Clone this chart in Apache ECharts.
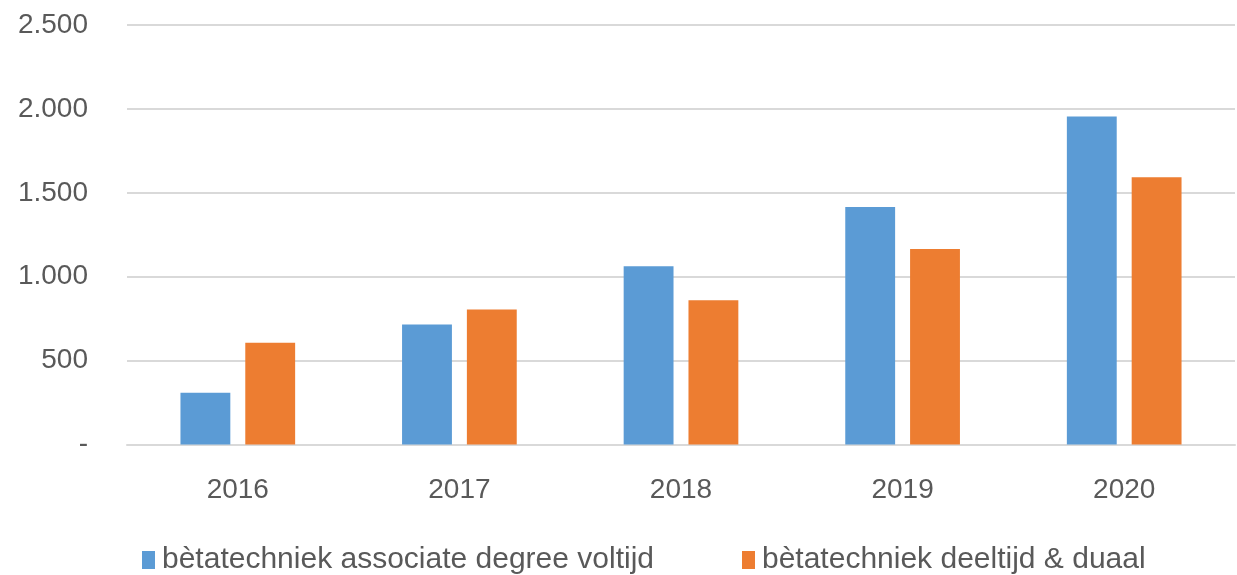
<!DOCTYPE html>
<html><head><meta charset="utf-8">
<script src="https://cdn.jsdelivr.net/npm/echarts@6/dist/echarts.min.js"></script>
<style>html,body{margin:0;padding:0;background:#fff}#c{width:1237px;height:575px}</style>
</head><body><div id="c"></div>
<script>
const categories = ['2016','2017','2018','2019','2020'];
const seriesNames = ['bètatechniek associate degree voltijd','bètatechniek deeltijd & duaal'];
const voltijd = [308, 715, 1062, 1415, 1955];
const deeltijd = [607, 805, 860, 1165, 1592];
const yTicks = [0, 500, 1000, 1500, 2000, 2500];

const FONT = 'Liberation Sans';
const chart = echarts.init(document.getElementById('c'));
chart.setOption({
  animation: false,
  textStyle: {fontFamily: FONT},
  grid: {left: 127, right: 2, top: 25, bottom: 130.5, containLabel: false},
  legend: {
    top: 540, left: 137, itemWidth: 13, itemHeight: 18, itemGap: 88,
    icon: 'rect',
    textStyle: {fontSize: 30, color: '#595959', fontFamily: FONT, padding: [0, 0, 0, 2]},
    data: seriesNames
  },
  xAxis: {
    type: 'category', data: categories,
    axisLine: {lineStyle: {color: '#d9d9d9', width: 2}},
    axisTick: {show: false},
    axisLabel: {fontSize: 28, color: '#595959', margin: 32}
  },
  yAxis: {
    type: 'value', min: yTicks[0], max: yTicks[yTicks.length-1], interval: 500,
    axisLine: {show: false}, axisTick: {show: false},
    splitLine: {lineStyle: {color: '#d9d9d9', width: 2}},
    axisLabel: {fontSize: 28, color: '#595959', margin: 39,
      formatter: v => v === 0 ? '-' : String(v).replace(/\B(?=(\d{3})+(?!\d))/g, '.')}
  },
  series: [
    {name: seriesNames[0], type: 'bar', data: voltijd, barWidth: '22.5%', barGap: '30%',
     itemStyle: {color: '#5b9bd5'}},
    {name: seriesNames[1], type: 'bar', data: deeltijd, barWidth: '22.5%', barGap: '30%',
     itemStyle: {color: '#ed7d31'}}
  ]
});
</script></body></html>
